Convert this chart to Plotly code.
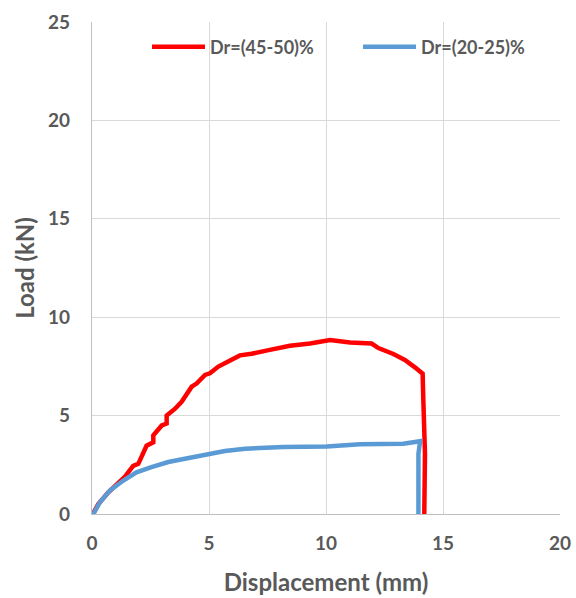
import plotly.graph_objects as go

# Dr = (45-50)% test
disp_dense = [0.0, 0.06, 0.27, 0.7, 1.41, 1.76, 1.98, 2.33, 2.62, 2.62, 2.98, 3.19, 3.19, 3.55, 3.83,
              4.26, 4.47, 4.83, 5.04, 5.4, 5.82, 6.32, 6.82, 7.32, 7.6, 8.46, 9.32, 10.17, 11.03,
              11.95, 12.24, 12.88, 13.37, 13.8, 14.13, 14.16, 14.23, 14.2]
load_dense = [0.0, 0.05, 0.5, 1.1, 1.9, 2.45, 2.55, 3.47, 3.64, 4.0, 4.5, 4.6, 5.0, 5.35, 5.7,
              6.47, 6.63, 7.07, 7.15, 7.49, 7.75, 8.06, 8.14, 8.3, 8.34, 8.55, 8.66, 8.84, 8.72,
              8.66, 8.43, 8.13, 7.83, 7.45, 7.13, 5.77, 3.05, 0.0]

# Dr = (20-25)% test
disp_loose = [0.0, 0.06, 0.34, 0.77, 1.34, 1.9, 2.54, 3.26, 3.97, 4.83, 5.68, 6.54, 7.39, 8.17,
              10.03, 11.45, 13.3, 14.02, 13.95, 13.95]
load_loose = [0.0, 0.0, 0.6, 1.2, 1.7, 2.12, 2.38, 2.64, 2.81, 3.03, 3.2, 3.32, 3.37, 3.4,
              3.43, 3.54, 3.57, 3.7, 3.06, 0.0]

x_ticks = [0, 5, 10, 15, 20]
y_ticks = [0, 5, 10, 15, 20, 25]

FONT = "Lato"
GREY = "#595959"

fig = go.Figure()
fig.add_trace(go.Scatter(x=disp_dense, y=load_dense, mode="lines", name="Dr=(45-50)%",
                         line=dict(color="#ff0000", width=4.5), legend="legend", showlegend=True))
fig.add_trace(go.Scatter(x=disp_loose, y=load_loose, mode="lines", name="Dr=(20-25)%",
                         line=dict(color="#5b9bd5", width=4.5), legend="legend2", showlegend=True))

tick_font = dict(size=19, family=FONT, color=GREY, weight="bold")
title_font = dict(size=24, family=FONT, color=GREY, weight="bold")
legend_font = dict(size=18, family=FONT, color=GREY, weight="bold")

legend_common = dict(orientation="h", y=0.949, xanchor="left", yanchor="middle",
                     font=legend_font, bgcolor="rgba(0,0,0,0)", itemwidth=53, visible=True)

fig.update_layout(
    width=576, height=598,
    margin=dict(l=92, r=16, t=22, b=84),
    paper_bgcolor="white", plot_bgcolor="white",
    font=dict(family=FONT, color=GREY),
    showlegend=True,
    legend=dict(x=0.1175, **legend_common),
    legend2=dict(x=0.5684, **legend_common),
    xaxis=dict(range=[0, 20], tickvals=x_ticks, showgrid=True, gridcolor="#d9d9d9", gridwidth=1.3,
               zeroline=False, showline=True, linecolor="#bfbfbf", linewidth=1.3,
               tickfont=tick_font, ticks="", ticklabelstandoff=12, automargin=False,
               title=dict(text="Displacement (mm)", font=title_font, standoff=21)),
    yaxis=dict(range=[0, 25], tickvals=y_ticks, showgrid=True, gridcolor="#d9d9d9", gridwidth=1.3,
               zeroline=False, showline=True, linecolor="#bfbfbf", linewidth=1.3,
               tickfont=tick_font, ticks="", ticklabelstandoff=17, automargin=False,
               title=dict(text="Load (kN)", font=title_font, standoff=6)),
)

fig.write_html("out.html")
